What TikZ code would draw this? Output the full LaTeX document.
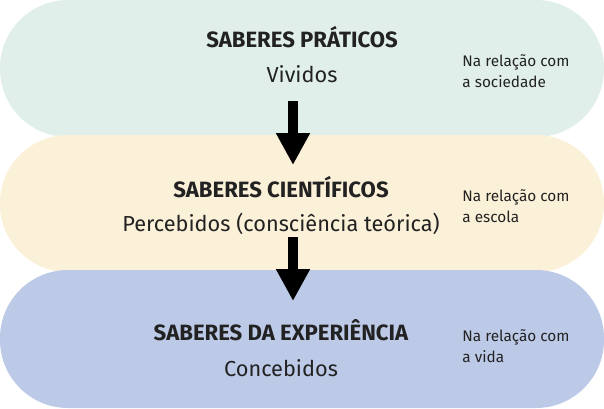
\documentclass[tikz,border=0pt]{standalone}
\usepackage{fontspec}
\setmainfont{Fira Sans}
\usetikzlibrary{arrows.meta}
\definecolor{cA}{HTML}{E1EFEA}
\definecolor{cB}{HTML}{FBF0D8}
\definecolor{cC}{HTML}{BDCAE7}
\definecolor{tx}{HTML}{222222}
\tikzset{
 pill/.style={rounded corners=51pt,draw=none},
 ttl/.style={font=\fontsize{16.6}{20}\selectfont\bfseries,text=tx},
 sub/.style={font=\fontsize{16.3}{20}\selectfont,text=tx},
 side/.style={font=\fontsize{11.5}{16}\selectfont,text=tx,align=left},
 bigarrow/.style={line width=8pt,-{Triangle[length=24pt,width=24pt]}}
}
\begin{document}
\begin{tikzpicture}[x=0.75pt,y=-0.75pt]
\useasboundingbox (0,0) rectangle (604,408);
\fill[pill,cA] (0,0) rectangle (604,137);
\fill[pill,cB] (0,135) rectangle (604,272);
\fill[pill,cC] (0,270) rectangle (604,408);
\node[ttl] (t1) at (302,37) {SABERES PRÁTICOS};
\node[sub] (s1) at (302,74) {Vividos};
\node[side] (r1) at (516,71) {Na relação com\\a sociedade};
\node[ttl] (t2) at (281,187) {SABERES CIENTÍFICOS};
\node[sub] (s2) at (281,224) {Percebidos (consciência teórica)};
\node[side] (r2) at (516,206) {Na relação com\\a escola};
\node[ttl] (t3) at (281,330) {SABERES DA EXPERIÊNCIA};
\node[sub] (s3) at (281,368) {Concebidos};
\node[side] (r3) at (516,346) {Na relação com\\a vida};
\coordinate (a1) at (293,101);
\coordinate (b1) at (293,165);
\coordinate (a2) at (293,237);
\coordinate (b2) at (293,301);
\draw[bigarrow] (a1) -- (b1);
\draw[bigarrow] (a2) -- (b2);
\end{tikzpicture}
\end{document}
